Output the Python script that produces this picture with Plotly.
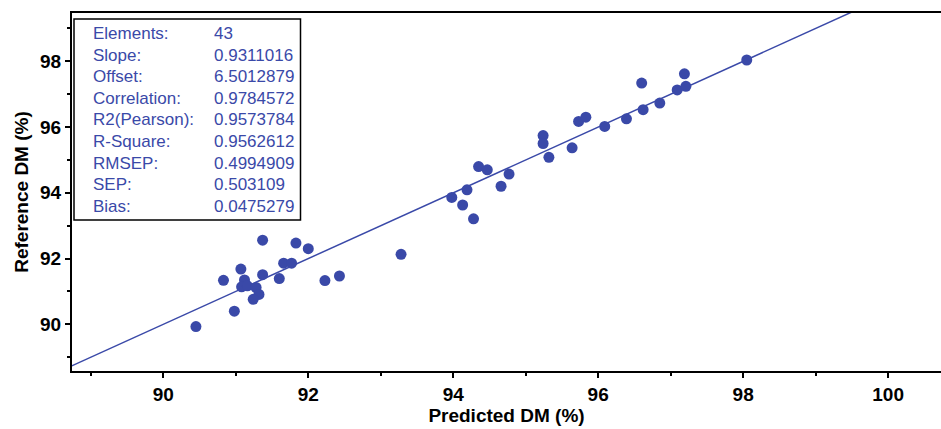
import plotly.graph_objects as go

predicted = [90.45, 90.98, 90.83, 91.07, 91.12, 91.08, 91.16, 91.28, 91.32, 91.24,
             91.37, 91.37, 91.60, 91.66, 91.77, 91.83, 92.00, 92.23, 92.43, 93.28,
             93.98, 94.13, 94.28, 94.19, 94.35, 94.47, 94.66, 94.77, 95.24, 95.24,
             95.32, 95.64, 95.73, 95.83, 96.09, 96.39, 96.60, 96.62, 96.85, 97.09,
             97.19, 97.21, 98.05]
reference = [89.93, 90.40, 91.34, 91.68, 91.35, 91.14, 91.17, 91.12, 90.91, 90.76,
             92.56, 91.51, 91.39, 91.86, 91.86, 92.47, 92.30, 91.33, 91.47, 92.13,
             93.86, 93.63, 93.21, 94.09, 94.80, 94.70, 94.20, 94.57, 95.74, 95.50,
             95.08, 95.37, 96.17, 96.30, 96.02, 96.25, 97.34, 96.53, 96.73, 97.13,
             97.62, 97.24, 98.04]

target_line = [88.0, 101.0]

stat_labels = ["Elements:", "Slope:", "Offset:", "Correlation:", "R2(Pearson):",
               "R-Square:", "RMSEP:", "SEP:", "Bias:"]
stat_values = ["43", "0.9311016", "6.5012879", "0.9784572", "0.9573784",
               "0.9562612", "0.4994909", "0.503109", "0.0475279"]

x_ticks = [90, 92, 94, 96, 98, 100]
y_ticks = [90, 92, 94, 96, 98]

BLUE = "#3A49A8"
FONT = "Liberation Sans, Arial, sans-serif"

fig = go.Figure()
fig.add_trace(go.Scatter(x=target_line, y=target_line, mode="lines",
                         line=dict(color=BLUE, width=1.5), hoverinfo="skip",
                         showlegend=False))
fig.add_trace(go.Scatter(x=predicted, y=reference, mode="markers",
                         marker=dict(color=BLUE, size=11, line=dict(width=0)),
                         showlegend=False))

W, H = 941, 429
ml, mr, mt, mb = 72, 0, 13, 58
pw, ph = W - ml - mr, H - mt - mb

def px_x(p):
    return (p - ml) / pw

def px_y(p):
    return (H - mb - p) / ph

fig.add_shape(type="rect", xref="paper", yref="paper",
              x0=px_x(74), x1=px_x(300.5), y0=px_y(220), y1=px_y(19),
              line=dict(color="black", width=1.5), fillcolor="white", layer="above")

for i, (lab, val) in enumerate(zip(stat_labels, stat_values)):
    yc = 33.5 + i * 21.6
    fig.add_annotation(x=px_x(91), y=px_y(yc), xref="paper", yref="paper",
                       text=lab, showarrow=False, xanchor="left", yanchor="middle",
                       font=dict(family=FONT, size=17, color=BLUE))
    fig.add_annotation(x=px_x(212), y=px_y(yc), xref="paper", yref="paper",
                       text=val, showarrow=False, xanchor="left", yanchor="middle",
                       font=dict(family=FONT, size=17, color=BLUE))

axis_common = dict(showgrid=False, zeroline=False, showline=True, linecolor="black",
                   linewidth=2, ticks="outside", ticklen=5, tickwidth=1.5,
                   tickcolor="black", automargin=False,
                   tickfont=dict(family=FONT, size=19, color="black", weight="bold"))

fig.update_xaxes(range=[88.74, 100.73], tickvals=x_ticks, mirror=True,
                 minor=dict(ticks="outside", ticklen=3, tickwidth=1.5,
                            tickcolor="black", dtick=1, tick0=89),
                 title=dict(text="<b>Predicted DM (%)</b>", standoff=4,
                            font=dict(family=FONT, size=19, color="black")),
                 **axis_common)
fig.update_yaxes(range=[88.58, 99.47], tickvals=y_ticks,
                 minor=dict(ticks="outside", ticklen=3, tickwidth=1.5,
                            tickcolor="black", dtick=1, tick0=89),
                 title=dict(text="<b>Reference DM (%)</b>", standoff=6,
                            font=dict(family=FONT, size=19, color="black")),
                 **axis_common)

fig.update_layout(width=W, height=H, margin=dict(l=ml, r=mr, t=mt, b=mb),
                  plot_bgcolor="white", paper_bgcolor="white",
                  font=dict(family=FONT))
fig.write_html("out.html", config={"displayModeBar": False},
               post_script="document.body.style.margin='0';")
